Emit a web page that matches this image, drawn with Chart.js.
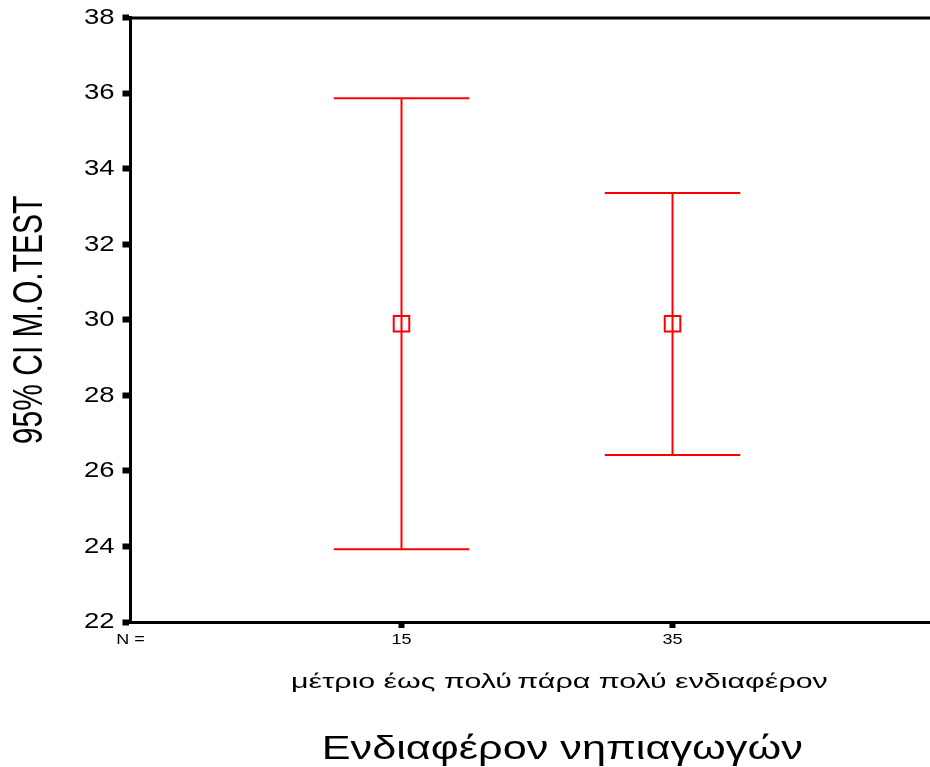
<!DOCTYPE html>
<html>
<head>
<meta charset="utf-8">
<script src="https://cdn.jsdelivr.net/npm/chart.js@4.4.1/dist/chart.umd.min.js"></script>
<style>
  html, body { margin: 0; padding: 0; background: #fff; overflow: hidden; }
  #wrap { width: 930px; height: 767px; }
</style>
</head>
<body>
<div id="wrap"><canvas id="myChart"></canvas></div>
<script>
const categories = ['μέτριο έως πολύ', 'πάρα πολύ ενδιαφέρον']
const nValues = [15, 35]
const means = [29.9, 29.9]
const lowerCI = [23.93, 26.42]
const upperCI = [35.87, 33.36]
const yTicks = [22, 24, 26, 28, 30, 32, 34, 36, 38]

const red = '#ff0000'
const font = 'Liberation Sans, Arial, sans-serif'
const capHalf = 0.25
const xMax = 2.95

// the reference text is stretched sideways: scale each label/title around its anchor
// [scaleX, scaleY, shiftX]; the x title sits right of centre because the plot runs past the edge
const stretch = {
    y: { labels: [1.25, 1, 0], title: [1, 1.4, 0] },
    x: { labels: [1.2, 1, 0] },
    x2: { labels: [1.52, 1, 0], title: [1.31, 1, 32] }
}
const wideText = {
    id: 'wideText',
    beforeDraw(chart) {
        Object.keys(stretch).forEach(id => {
            const s = chart.scales[id]
            if (!s || s._wide) return
            s._wide = true
            const wrap = (name, k) => {
                const f = s[name]
                s[name] = function (...a) {
                    const c = this.ctx
                    const rot = c.rotate
                    c.rotate = function (r) { rot.call(this, r); this.translate(k[2], 0); this.scale(k[0], k[1]) }
                    try { f.apply(this, a) } finally { c.rotate = rot }
                }
            }
            if (stretch[id].labels) wrap('drawLabels', stretch[id].labels)
            if (stretch[id].title) wrap('drawTitle', stretch[id].title)
        })
    }
}

// whiskers + top frame line
const errorBars = {
    id: 'errorBars',
    beforeDatasetsDraw(chart) {
        const c = chart.ctx
        const x = chart.scales.x, y = chart.scales.y
        c.save()
        c.strokeStyle = red
        c.lineWidth = 2
        means.forEach((m, i) => {
            const px = x.getPixelForValue(i + 1)
            const lo = y.getPixelForValue(lowerCI[i])
            const hi = y.getPixelForValue(upperCI[i])
            const l = x.getPixelForValue(i + 1 - capHalf)
            const r = x.getPixelForValue(i + 1 + capHalf)
            c.beginPath()
            c.moveTo(px, lo); c.lineTo(px, hi)
            c.moveTo(l, lo); c.lineTo(r, lo)
            c.moveTo(l, hi); c.lineTo(r, hi)
            c.stroke()
        })
        c.strokeStyle = '#000'
        c.lineWidth = 3
        const a = chart.chartArea
        c.beginPath()
        c.moveTo(a.left - 1.5, a.top)
        c.lineTo(a.right, a.top)
        c.stroke()
        c.restore()
    }
}

const ctx = document.getElementById('myChart').getContext('2d')
const myChart = new Chart(ctx, {
    type: 'scatter',
    data: {
        datasets: [{
            data: means.map((m, i) => ({ x: i + 1, y: m })),
            pointStyle: 'rect',
            radius: 11,
            borderWidth: 2,
            borderColor: red,
            backgroundColor: 'rgba(0,0,0,0)'
        }]
    },
    options: {
        responsive: true,
        maintainAspectRatio: false,
        animation: false,
        layout: { autoPadding: false, padding: { top: 10, left: 12, right: 0, bottom: 0 } },
        plugins: { legend: { display: false }, tooltip: { enabled: false } },
        scales: {
            y: {
                type: 'linear',
                min: 22, max: 38,
                afterBuildTicks: ax => { ax.ticks = yTicks.map(v => ({ value: v })) },
                ticks: { color: '#000', font: { family: font, size: 22, lineHeight: 0.9 }, padding: 8 },
                grid: { drawOnChartArea: false, tickLength: 8, tickWidth: 6, color: '#000' },
                border: { width: 3, color: '#000' },
                title: {
                    display: true, text: '95% CI M.O.TEST', color: '#000',
                    font: { family: font, size: 30, lineHeight: 1 },
                    padding: { top: 3, bottom: 37 }
                }
            },
            x: {
                type: 'linear',
                position: 'bottom',
                min: 0, max: xMax,
                afterBuildTicks: ax => { ax.ticks = [0, 1, 2].map(v => ({ value: v })) },
                ticks: {
                    color: '#000', font: { family: font, size: 15 }, padding: 3, maxRotation: 0,
                    callback: (v, i) => i === 0 ? 'N =' : String(nValues[i - 1])
                },
                grid: {
                    drawOnChartArea: false, tickLength: 6, tickWidth: 6,
                    color: c => c.index === 0 ? 'rgba(0,0,0,0)' : '#000'
                },
                border: { width: 3, color: '#000' }
            },
            x2: {
                type: 'linear',
                position: 'bottom',
                min: 0, max: xMax,
                afterBuildTicks: ax => { ax.ticks = [1, 2].map(v => ({ value: v })) },
                ticks: {
                    color: '#000', font: { family: font, size: 20 }, padding: 18, maxRotation: 0,
                    callback: (v, i) => categories[i]
                },
                grid: { display: false, drawTicks: false },
                border: { display: false },
                title: {
                    display: true, text: 'Ενδιαφέρον νηπιαγωγών', color: '#000',
                    font: { family: font, size: 33, lineHeight: 1 },
                    padding: { top: 21, bottom: 1 }
                }
            }
        }
    },
    plugins: [wideText, errorBars]
})
</script>
</body>
</html>
